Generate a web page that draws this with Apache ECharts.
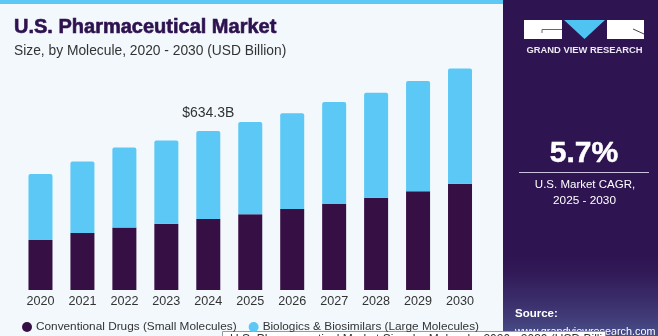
<!DOCTYPE html>
<html>
<head>
<meta charset="utf-8">
<script src="https://cdn.jsdelivr.net/npm/echarts@6/dist/echarts.min.js"></script>
<style>
html,body{margin:0;padding:0;background:#f2f8fc;}
#c{width:658px;height:336px;}
</style>
</head>
<body>
<div id="c"></div>
<script>
var years = ['2020','2021','2022','2023','2024','2025','2026','2027','2028','2029','2030'];
var conventional = [200, 227, 249, 264, 283, 302, 323, 343, 368, 394, 424];
var biologics = [263, 286, 320, 333, 351.3, 368, 382, 407, 419, 440, 460];
var seriesNames = ['Conventional Drugs (Small Molecules)', 'Biologics & Biosimilars (Large Molecules)'];
var highlightIndex = 4;
var highlightLabel = '$634.3B';

var FONT = '"Liberation Sans", Arial, sans-serif';
var chart = echarts.init(document.getElementById('c'), null, {renderer: 'canvas'});

var bioData = biologics.map(function (v, i) {
  if (i === highlightIndex) {
    return {value: v, label: {show: true, position: 'top', distance: 11, formatter: highlightLabel,
      fontSize: 14, color: '#333', fontFamily: FONT}};
  }
  return v;
});

var option = {
  backgroundColor: '#f2f8fc',
  animation: false,
  title: [
    {text: 'U.S. Pharmaceutical Market', left: 14, top: 17.5, padding: 0,
     textStyle: {fontSize: 20, fontWeight: 900, color: '#2e1250', fontFamily: FONT,
       textBorderColor: '#2e1250', textBorderWidth: 0.6}},
    {text: 'Size, by Molecule, 2020 - 2030 (USD Billion)', left: 14, top: 44.5, padding: 0,
     textStyle: {fontSize: 13.8, fontWeight: 'normal', color: '#333', fontFamily: FONT}}
  ],
  legend: {
    data: seriesNames,
    left: 22, top: 321, padding: 0,
    icon: 'circle', itemWidth: 10, itemHeight: 10, itemGap: 12,
    textStyle: {fontSize: 11.8, color: '#333', fontFamily: FONT, padding: [0, 0, 0, -1]}
  },
  grid: {left: 19.5, right: 177, top: 39.4, bottom: 46, containLabel: false},
  xAxis: {
    type: 'category', data: years,
    axisLine: {show: false}, axisTick: {show: false},
    axisLabel: {fontSize: 12.6, color: '#333', margin: 5, fontFamily: FONT}
  },
  yAxis: {type: 'value', min: 0, max: 1000, show: false, splitLine: {show: false}},
  series: [
    {name: seriesNames[0], type: 'bar', stack: 'a', data: conventional, barWidth: 24,
     itemStyle: {color: '#360f44'}},
    {name: seriesNames[1], type: 'bar', stack: 'a', data: bioData, barWidth: 24,
     itemStyle: {color: '#5bc8f5', borderRadius: [2, 2, 0, 0]}}
  ],
  graphic: [
    {type: 'rect', shape: {x: 0, y: 0, width: 503, height: 4}, style: {fill: '#5bc8f5'}, silent: true},
    {type: 'rect', shape: {x: 503, y: 0, width: 155, height: 336}, style: {fill: '#2f1452'}, silent: true},
    {type: 'rect', shape: {x: 503, y: 250, width: 155, height: 86}, silent: true,
     style: {fill: new echarts.graphic.LinearGradient(0, 0, 0, 1, [
       {offset: 0, color: 'rgba(47,20,82,0)'},
       {offset: 0.45, color: 'rgba(70,70,130,0.35)'},
       {offset: 1, color: 'rgba(90,120,175,0.6)'}])}},
    // logo
    {type: 'rect', shape: {x: 524, y: 20, width: 38, height: 19}, style: {fill: '#ffffff'}, silent: true},
    {type: 'polygon', shape: {points: [[564, 20], [605, 20], [584.5, 39]]}, style: {fill: '#4fc3f2'}, silent: true},
    {type: 'rect', shape: {x: 607, y: 20, width: 37, height: 19}, style: {fill: '#ffffff'}, silent: true},
    {type: 'polyline', shape: {points: [[542, 33], [542, 29.5], [562, 29.5]]}, style: {stroke: '#666', lineWidth: 1, fill: null}, silent: true},
    {type: 'line', shape: {x1: 633, y1: 29, x2: 644, y2: 34}, style: {stroke: '#444', lineWidth: 1}, silent: true},
    {type: 'text', x: 584.5, y: 50, silent: true,
     style: {text: 'GRAND VIEW RESEARCH', fill: '#ece8f4', font: 'bold 9.4px ' + FONT, textAlign: 'center', textVerticalAlign: 'middle'}},
    {type: 'text', x: 584, y: 154, silent: true,
     style: {text: '5.7%', fill: '#ffffff', font: 'bold 30px ' + FONT, textAlign: 'center', textVerticalAlign: 'middle',
       stroke: '#ffffff', lineWidth: 0.5}},
    {type: 'line', shape: {x1: 519, y1: 172.5, x2: 649, y2: 172.5}, style: {stroke: '#c9c1de', lineWidth: 1}, silent: true},
    {type: 'text', x: 585, y: 185, silent: true,
     style: {text: 'U.S. Market CAGR,', fill: '#ffffff', font: '11.5px ' + FONT, textAlign: 'center', textVerticalAlign: 'middle'}},
    {type: 'text', x: 584.5, y: 200.5, silent: true,
     style: {text: '2025 - 2030', fill: '#ffffff', font: '11.8px ' + FONT, textAlign: 'center', textVerticalAlign: 'middle'}},
    {type: 'text', x: 515, y: 314, silent: true,
     style: {text: 'Source:', fill: '#ffffff', font: 'bold 11.5px ' + FONT, textAlign: 'left', textVerticalAlign: 'middle'}},
    {type: 'text', x: 515, y: 332, silent: true,
     style: {text: 'www.grandviewresearch.com', fill: '#ffffff', font: '10.8px ' + FONT, textAlign: 'left', textVerticalAlign: 'middle'}},
    // partially visible caption box at bottom
    {type: 'rect', shape: {x: 222.5, y: 331.5, width: 383, height: 12}, style: {fill: '#ffffff', stroke: '#9a9a9a', lineWidth: 1}, silent: true},
    {type: 'text', x: 230, y: 339.5, silent: true,
     style: {text: 'U.S. Pharmaceutical Market Size, by Molecule, 2020 - 2030 (USD Billion)', fill: '#333', font: '12px ' + FONT, textAlign: 'left', textVerticalAlign: 'middle'}}
  ]
};
chart.setOption(option);
</script>
</body>
</html>
